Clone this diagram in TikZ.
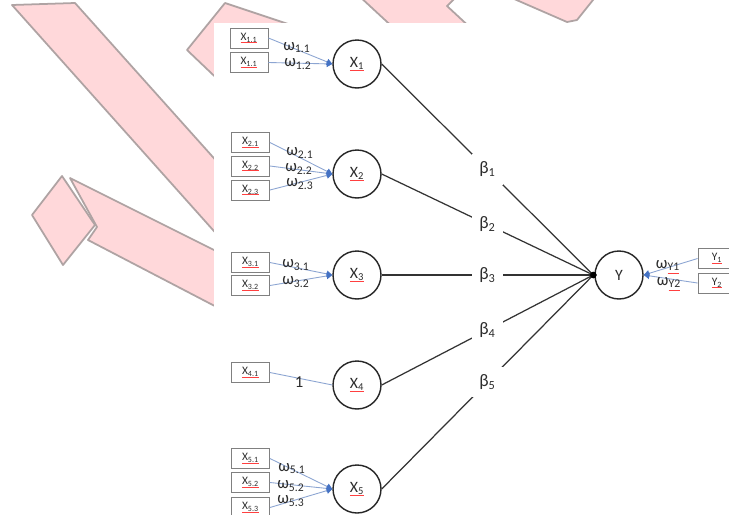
\documentclass[tikz,border=0pt]{standalone}
\usepackage{fontspec}
\setmainfont{Carlito}
\usetikzlibrary{arrows.meta}
\definecolor{pinkfill}{RGB}{255,216,218}
\definecolor{pinkline}{RGB}{175,163,163}
\definecolor{wire}{RGB}{140,165,210}
\definecolor{tipblue}{RGB}{68,114,196}
\definecolor{boxgray}{RGB}{128,128,128}
\definecolor{txt}{RGB}{45,45,45}
\newcommand\redul[1]{\setbox0\hbox{#1}\rlap{\raisebox{-1.6pt}{\color{red!75}\rule{\wd0}{0.35pt}}}\box0}
\newcommand\fsz[1]{\fontsize{#1}{#1}\selectfont}
\tikzset{
  pinkshape/.style={fill=pinkfill, draw=pinkline, line width=1pt, line join=round},
  inbox/.style={draw=boxgray, line width=0.5pt, minimum width=0.76cm, minimum height=0.4cm, inner sep=0pt, font=\fsz{6.5}, text=txt},
  var/.style={circle, draw=black!85, line width=0.8pt, minimum size=0.96cm, inner sep=0pt, font=\fsz{9}, text=txt},
  wline/.style={draw=wire, line width=0.5pt, -{Triangle[length=3.2pt,width=3.6pt,color=tipblue]}},
  plainwire/.style={draw=wire, line width=0.5pt},
  wlab/.style={font=\fsz{9.5}, text=txt, inner sep=0pt},
  betaline/.style={draw=black!80, line width=0.7pt},
  beta/.style={fill=white, font=\fsz{10}, text=txt, inner sep=4.3pt},
  hubdot/.style={circle, fill=black, inner sep=0pt, minimum size=0.13cm}
}
\begin{document}
\begin{tikzpicture}[x=0.02cm,y=-0.02cm]
\useasboundingbox (0,0) rectangle (729,514);
\clip (0,0) rectangle (729,514);
% background watermark shapes
\fill[white] (0,0) rectangle (729,514);
\draw[pinkshape] (12,5) -- (75,3) -- (280,232) -- (280,305) -- cycle;
\draw[pinkshape] (62,176) -- (95,225) -- (63,265) -- (32,215) -- cycle;
\draw[pinkshape] (70,178) -- (97,227) -- (88,240) -- (280,340) -- (280,283) -- cycle;
\draw[pinkshape] (225,3) -- (300,28) -- (250,110) -- (187,50) -- cycle;
\draw[pinkshape] (358,-5) -- (458,-5) -- (447,6) -- (475,32) -- (398,32) -- cycle;
\draw[pinkshape] (505,-5) -- (567,22) -- (577,20) -- (597,-5) -- cycle;
% white panel
\fill[white] (214,23) rectangle (740,520);

% latent variables
\node[var] (X1) at (357,64) {\redul{X\textsubscript{1}}};
\node[var] (X2) at (357,174) {\redul{X\textsubscript{2}}};
\node[var] (X3) at (357,275) {\redul{X\textsubscript{3}}};
\node[var] (X4) at (357,385) {\redul{X\textsubscript{4}}};
\node[var] (X5) at (357,489) {\redul{X\textsubscript{5}}};
\node[var] (Y) at (619,275) {Y};
\node[hubdot] (hub) at ([xshift=-0.02cm]Y.west) {};

% indicator boxes
\node[inbox] (b11) at (249,38) {\redul{X\textsubscript{1.1}}};
\node[inbox] (b12) at (249,62.5) {\redul{X\textsubscript{1.1}}};
\node[inbox] (b21) at (250.5,142.5) {\redul{X\textsubscript{2.1}}};
\node[inbox] (b22) at (250.5,166) {\redul{X\textsubscript{2.2}}};
\node[inbox] (b23) at (250.5,190) {\redul{X\textsubscript{2.3}}};
\node[inbox] (b31) at (250.5,262.5) {\redul{X\textsubscript{3.1}}};
\node[inbox] (b32) at (250.5,285.5) {\redul{X\textsubscript{3.2}}};
\node[inbox] (b41) at (250.5,372.5) {\redul{X\textsubscript{4.1}}};
\node[inbox] (b51) at (250.5,458.5) {\redul{X\textsubscript{5.1}}};
\node[inbox] (b52) at (250.5,482.5) {\redul{X\textsubscript{5.2}}};
\node[inbox] (b53) at (250.5,507.5) {\redul{X\textsubscript{5.3}}};
\node[inbox] (y1) at (717,258.5) {\redul{Y\textsubscript{1}}};
\node[inbox] (y2) at (717,283) {\redul{Y\textsubscript{2}}};

% weight connectors
\draw[wline] (b11.east) -- (X1.west);
\draw[wline] (b12.east) -- (X1.west);
\draw[wline] (b21.east) -- (X2.west);
\draw[wline] (b22.east) -- (X2.west);
\draw[wline] (b23.east) -- (X2.west);
\draw[wline] (b31.east) -- (X3.west);
\draw[wline] (b32.east) -- (X3.west);
\draw[plainwire] (b41.east) -- (X4.west);
\draw[wline] (b51.east) -- (X5.west);
\draw[wline] (b52.east) -- (X5.west);
\draw[wline] (b53.east) -- (X5.west);
\draw[wline] (y1.west) -- (Y.east);
\draw[wline] (y2.west) -- (Y.east);

% weight labels
\node[wlab] (w11) at (297,48) {ω\textsubscript{1.1}};
\node[wlab] (w12) at (298,64) {ω\textsubscript{1.2}};
\node[wlab] (w21) at (300,153) {ω\textsubscript{2.1}};
\node[wlab] (w22) at (299,169) {ω\textsubscript{2.2}};
\node[wlab] (w23) at (300,184) {ω\textsubscript{2.3}};
\node[wlab] (w31) at (296,265) {ω\textsubscript{3.1}};
\node[wlab] (w32) at (296,282) {ω\textsubscript{3.2}};
\node[wlab] (w41) at (299,382) {1};
\node[wlab] (w51) at (292,469) {ω\textsubscript{5.1}};
\node[wlab] (w52) at (291,486) {ω\textsubscript{5.2}};
\node[wlab] (w53) at (291,501) {ω\textsubscript{5.3}};
\node[wlab] (wy1) at (668,267) {ω\textsubscript{\redul{Y1}}};
\node[wlab] (wy2) at (669,284) {ω\textsubscript{\redul{Y2}}};

% structural paths
\draw[betaline] (X1.east) -- node[beta] (bt1) {β\textsubscript{1}} (hub.center);
\draw[betaline] (X2.east) -- node[beta] (bt2) {β\textsubscript{2}} (hub.center);
\draw[betaline] (X3.east) -- node[beta] (bt3) {β\textsubscript{3}} (hub.center);
\draw[betaline] (X4.east) -- node[beta] (bt4) {β\textsubscript{4}} (hub.center);
\draw[betaline] (X5.east) -- node[beta] (bt5) {β\textsubscript{5}} (hub.center);
\node[hubdot] at (hub) {};
\end{tikzpicture}
\end{document}
